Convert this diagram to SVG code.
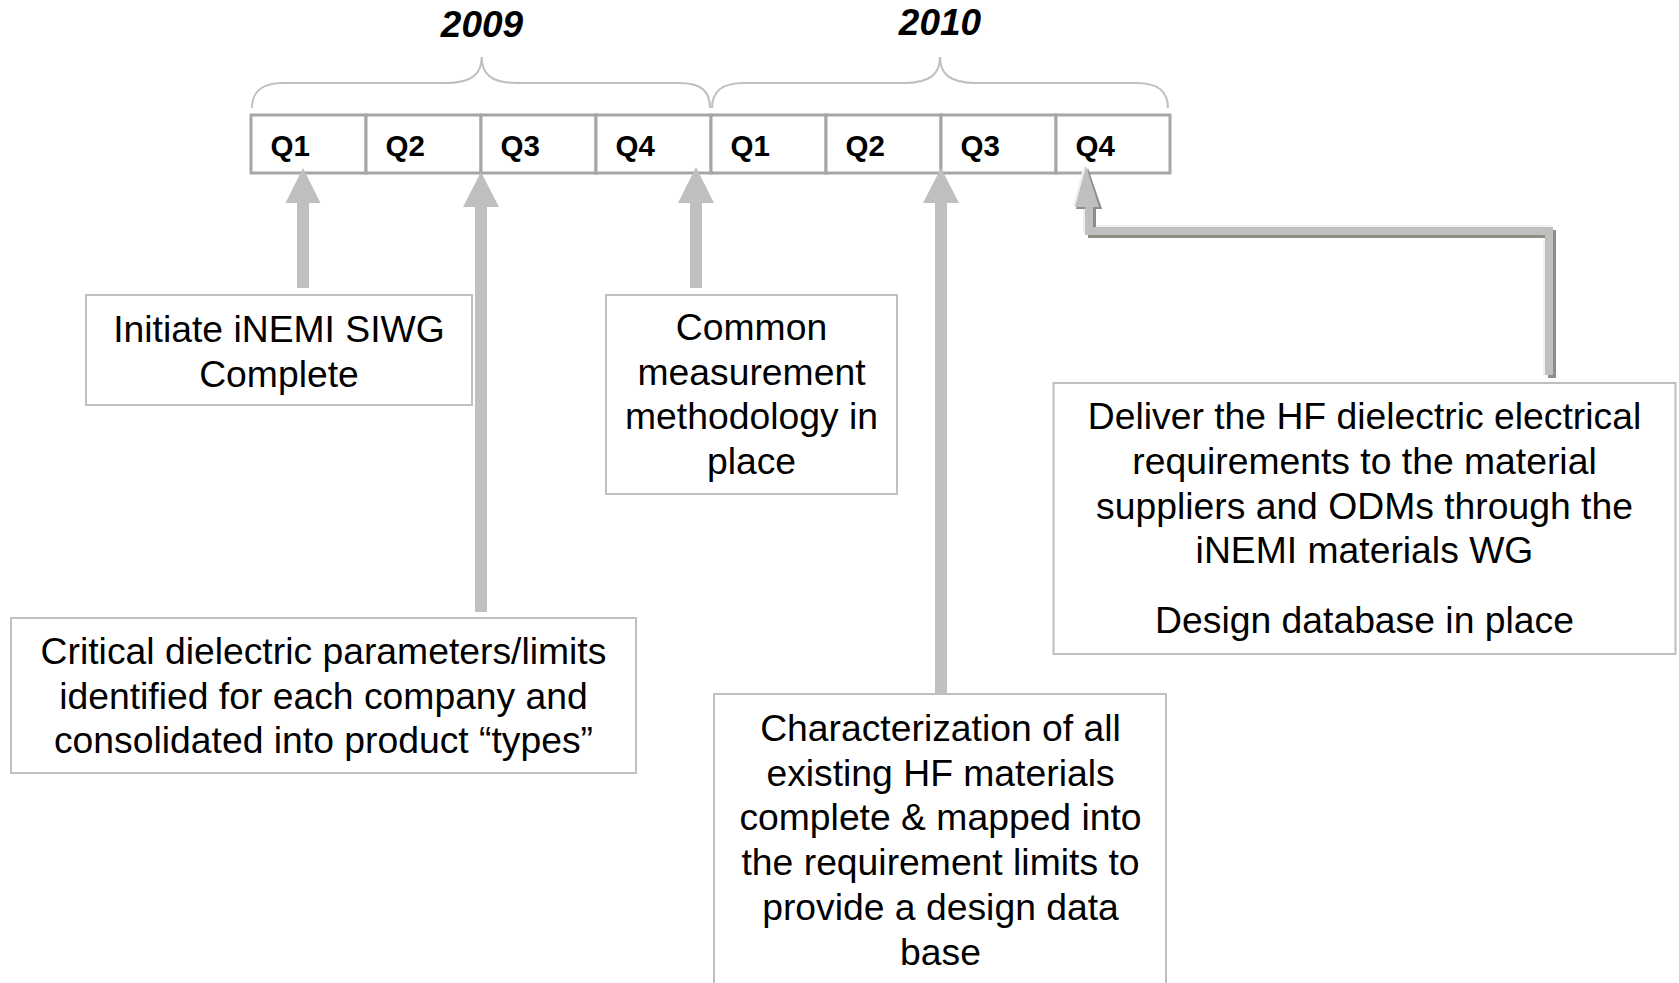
<svg xmlns="http://www.w3.org/2000/svg" width="1679" height="983" viewBox="0 0 1679 983">
  <defs>
    <style>
      .year { font-family: "Liberation Sans", Arial, sans-serif; font-size: 37px; font-weight: bold; font-style: italic; fill: #000; text-anchor: middle; }
      .q { font-family: "Liberation Sans", Arial, sans-serif; font-size: 29.5px; font-weight: bold; fill: #000; }
      .label { font-family: "Liberation Sans", Arial, sans-serif; font-size: 37.3px; fill: #000; text-anchor: middle; }
      .cell { fill: #fff; stroke: #a6a6a6; stroke-width: 3; }
      .brace { fill: none; stroke: #bfbfbf; stroke-width: 2; }
      .box { fill: #fff; stroke: #bfbfbf; stroke-width: 2; }
      .arrow { fill: #bfbfbf; }
      .bevel-shadow { fill: none; stroke: #8e8e86; stroke-width: 8; stroke-linejoin: miter; }
      .bevel-light { fill: none; stroke: #f1f1e9; stroke-width: 8; stroke-linejoin: miter; }
      .bevel-main { fill: none; stroke: #bfbfbf; stroke-width: 8; stroke-linejoin: miter; }
    </style>
  </defs>
  <rect width="1679" height="983" fill="#fff"/>

  <!-- year headers with braces -->
  <g id="years">
    <text class="year" x="482" y="37">2009</text>
    <text class="year" x="940" y="35">2010</text>
    <path class="brace" d="M252,108 C252,91 262,83 284,83 L446,83 C472,83 481.7,74 481.7,57 C481.7,74 491,83 517,83 L679,83 C701,83 710,91 710,108"/>
    <path class="brace" d="M712,108 C712,91 722,83 744,83 L904,83 C930,83 940,74 940,57 C940,74 950,83 976,83 L1136,83 C1158,83 1168,91 1168,108"/>
  </g>

  <!-- quarter cells -->
  <g id="timeline">
    <rect class="cell" x="251" y="115" width="115" height="58"/>
    <rect class="cell" x="366" y="115" width="115" height="58"/>
    <rect class="cell" x="481" y="115" width="115" height="58"/>
    <rect class="cell" x="596" y="115" width="115" height="58"/>
    <rect class="cell" x="711" y="115" width="115" height="58"/>
    <rect class="cell" x="826" y="115" width="115" height="58"/>
    <rect class="cell" x="941" y="115" width="115" height="58"/>
    <rect class="cell" x="1056" y="115" width="114" height="58"/>
    <text class="q" x="270.5" y="156">Q1</text>
    <text class="q" x="385.5" y="156">Q2</text>
    <text class="q" x="500.5" y="156">Q3</text>
    <text class="q" x="615.5" y="156">Q4</text>
    <text class="q" x="730.5" y="156">Q1</text>
    <text class="q" x="845.5" y="156">Q2</text>
    <text class="q" x="960.5" y="156">Q3</text>
    <text class="q" x="1075.5" y="156">Q4</text>
  </g>

  <!-- connectors -->
  <g id="connectors">
    <!-- straight block arrows -->
    <polygon class="arrow" points="303,168 320.5,203 309,203 309,288 297,288 297,203 285.5,203"/>
    <polygon class="arrow" points="481,172 499,207 487,207 487,612 475,612 475,207 463,207"/>
    <polygon class="arrow" points="696,167 714,203 702,203 702,288 690,288 690,203 678,203"/>
    <polygon class="arrow" points="941,168 959,203 947,203 947,693 935,693 935,203 923,203"/>
    <!-- bevelled elbow arrow -->
    <g id="elbow-arrow">
      <path class="bevel-light" d="M1547,375 L1547,229 L1087,229 L1087,205"/>
      <path class="bevel-shadow" d="M1552,378 L1552,234 L1092,234 L1092,208"/>
      <polygon fill="#8e8e86" points="1088,168 1102,209 1076,209"/>
      <polygon fill="#f1f1e9" points="1084,164 1097,205 1073,206"/>
      <path class="bevel-main" d="M1549,375 L1549,231 L1089,231 L1089,206"/>
      <polygon fill="#bfbfbf" points="1086,166 1099,207 1075,207"/>
    </g>
  </g>

  <!-- milestone boxes -->
  <g id="node-initiate">
    <rect class="box" x="86" y="295" width="386" height="110"/>
    <text class="label" x="279" y="342">Initiate iNEMI SIWG</text>
    <text class="label" x="279" y="386.5">Complete</text>
  </g>

  <g id="node-methodology">
    <rect class="box" x="606" y="295" width="291" height="199"/>
    <text class="label" x="751.5" y="340">Common</text>
    <text class="label" x="751.5" y="384.7">measurement</text>
    <text class="label" x="751.5" y="429.4">methodology in</text>
    <text class="label" x="751.5" y="474.1">place</text>
  </g>

  <g id="node-parameters">
    <rect class="box" x="11" y="618" width="625" height="155"/>
    <text class="label" x="323.5" y="664">Critical dielectric parameters/limits</text>
    <text class="label" x="323.5" y="708.5">identified for each company and</text>
    <text class="label" x="323.5" y="753">consolidated into product “types”</text>
  </g>

  <g id="node-characterization">
    <rect class="box" x="714" y="694" width="452" height="300"/>
    <text class="label" x="940.5" y="741">Characterization of all</text>
    <text class="label" x="940.5" y="785.7">existing HF materials</text>
    <text class="label" x="940.5" y="830.4">complete &amp; mapped into</text>
    <text class="label" x="940.5" y="875.1">the requirement limits to</text>
    <text class="label" x="940.5" y="919.8">provide a design data</text>
    <text class="label" x="940.5" y="964.5">base</text>
  </g>

  <g id="node-deliver">
    <rect class="box" x="1053.5" y="383" width="622" height="271"/>
    <text class="label" x="1364.5" y="429.3">Deliver the HF dielectric electrical</text>
    <text class="label" x="1364.5" y="474">requirements to the material</text>
    <text class="label" x="1364.5" y="518.7">suppliers and ODMs through the</text>
    <text class="label" x="1364.5" y="563.4">iNEMI materials WG</text>
    <text class="label" x="1364.5" y="633.3">Design database in place</text>
  </g>
</svg>
